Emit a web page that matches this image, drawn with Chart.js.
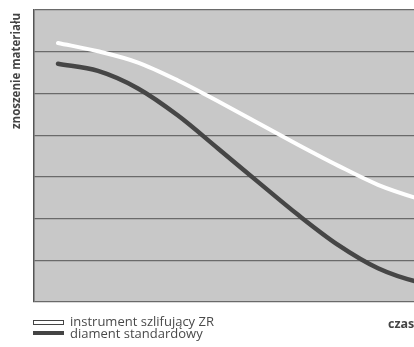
<!DOCTYPE html>
<html>
<head>
<meta charset="utf-8">
<script src="https://cdn.jsdelivr.net/npm/chart.js@4/dist/chart.umd.min.js"></script>
<style>
  html, body { margin: 0; padding: 0; background: #fff; overflow: hidden; }
  #wrap { width: 414px; height: 347px; overflow: hidden; position: relative; }
  canvas { display: block; }
</style>
</head>
<body>
<div id="wrap"><canvas id="c" width="434" height="347"></canvas></div>
<script>
// Time positions (arbitrary units) and wear values (arbitrary units, 0..7)
const timePoints =   [0.6, 1.6, 2.6, 3.6, 4.6, 5.6, 6.6, 7.6, 8.6, 9.6, 10.6];
const wearZR =       [6.21, 6.01, 5.74, 5.31, 4.81, 4.29, 3.77, 3.27, 2.81, 2.48, 2.22];
const wearStandard = [5.71, 5.54, 5.12, 4.47, 3.68, 2.88, 2.09, 1.37, 0.81, 0.48, 0.32];
const seriesLabels = ['instrument szlifujący ZR', 'diament standardowy'];
const yAxisTitle = 'znoszenie materiału';
const xAxisTitle = 'czas';

const toXY = (xs, ys) => xs.map((x, i) => ({ x: x, y: ys[i] }));

const decor = {
  id: 'decor',
  beforeDraw(chart) {
    const { ctx, chartArea: a } = chart;
    ctx.save();
    ctx.fillStyle = '#c8c8c8';
    ctx.fillRect(a.left, a.top, a.right - a.left, a.bottom - a.top);
    ctx.restore();
  },
  afterDraw(chart) {
    const { ctx } = chart;
    ctx.save();
    ctx.translate(17, 71);
    ctx.rotate(-Math.PI / 2);
    ctx.font = 'bold 11.5px "Open Sans", sans-serif';
    ctx.fillStyle = '#444';
    ctx.textAlign = 'center';
    ctx.textBaseline = 'middle';
    ctx.fillText(yAxisTitle, 0, 0);
    ctx.restore();

    ctx.save();
    ctx.font = 'bold 12.5px "Open Sans", sans-serif';
    ctx.fillStyle = '#444';
    ctx.textAlign = 'left';
    ctx.textBaseline = 'middle';
    ctx.fillText(xAxisTitle, 388, 324);

    const ds = chart.data.datasets;
    ctx.font = '13px "Open Sans", sans-serif';
    ctx.fillStyle = '#fff';
    ctx.fillRect(34, 321, 29, 3);
    ctx.strokeStyle = '#444';
    ctx.lineWidth = 1;
    ctx.strokeRect(33.5, 320.5, 30, 4);
    ctx.fillStyle = '#4a4a4a';
    ctx.fillText(ds[0].label, 70, 322.5);
    ctx.fillStyle = '#444';
    ctx.fillRect(33, 331, 31, 4);
    ctx.fillStyle = '#4a4a4a';
    ctx.fillText(ds[1].label, 70, 334);
    ctx.restore();
  }
};

new Chart(document.getElementById('c'), {
  type: 'line',
  data: {
    datasets: [
      {
        label: seriesLabels[0],
        data: toXY(timePoints, wearZR),
        borderColor: '#ffffff',
        borderWidth: 4,
        borderCapStyle: 'round',
        pointRadius: 0,
        cubicInterpolationMode: 'monotone',
        fill: false
      },
      {
        label: seriesLabels[1],
        data: toXY(timePoints, wearStandard),
        borderColor: '#464646',
        borderWidth: 4.5,
        borderCapStyle: 'round',
        pointRadius: 0,
        cubicInterpolationMode: 'monotone',
        fill: false
      }
    ]
  },
  options: {
    responsive: false,
    animation: false,
    events: [],
    layout: { padding: { left: 34, top: 10, right: 0, bottom: 45 } },
    plugins: { legend: { display: false }, tooltip: { enabled: false } },
    scales: {
      x: { type: 'linear', min: 0, max: 10, display: false },
      y: {
        min: 0,
        max: 7,
        ticks: { display: false, stepSize: 1 },
        grid: { color: '#6a6a6a', lineWidth: 1.2, drawTicks: false },
        border: { display: true, color: '#555', width: 1.5 },
        afterFit: s => { s.width = 0; }
      }
    }
  },
  plugins: [decor]
});
</script>
</body>
</html>
